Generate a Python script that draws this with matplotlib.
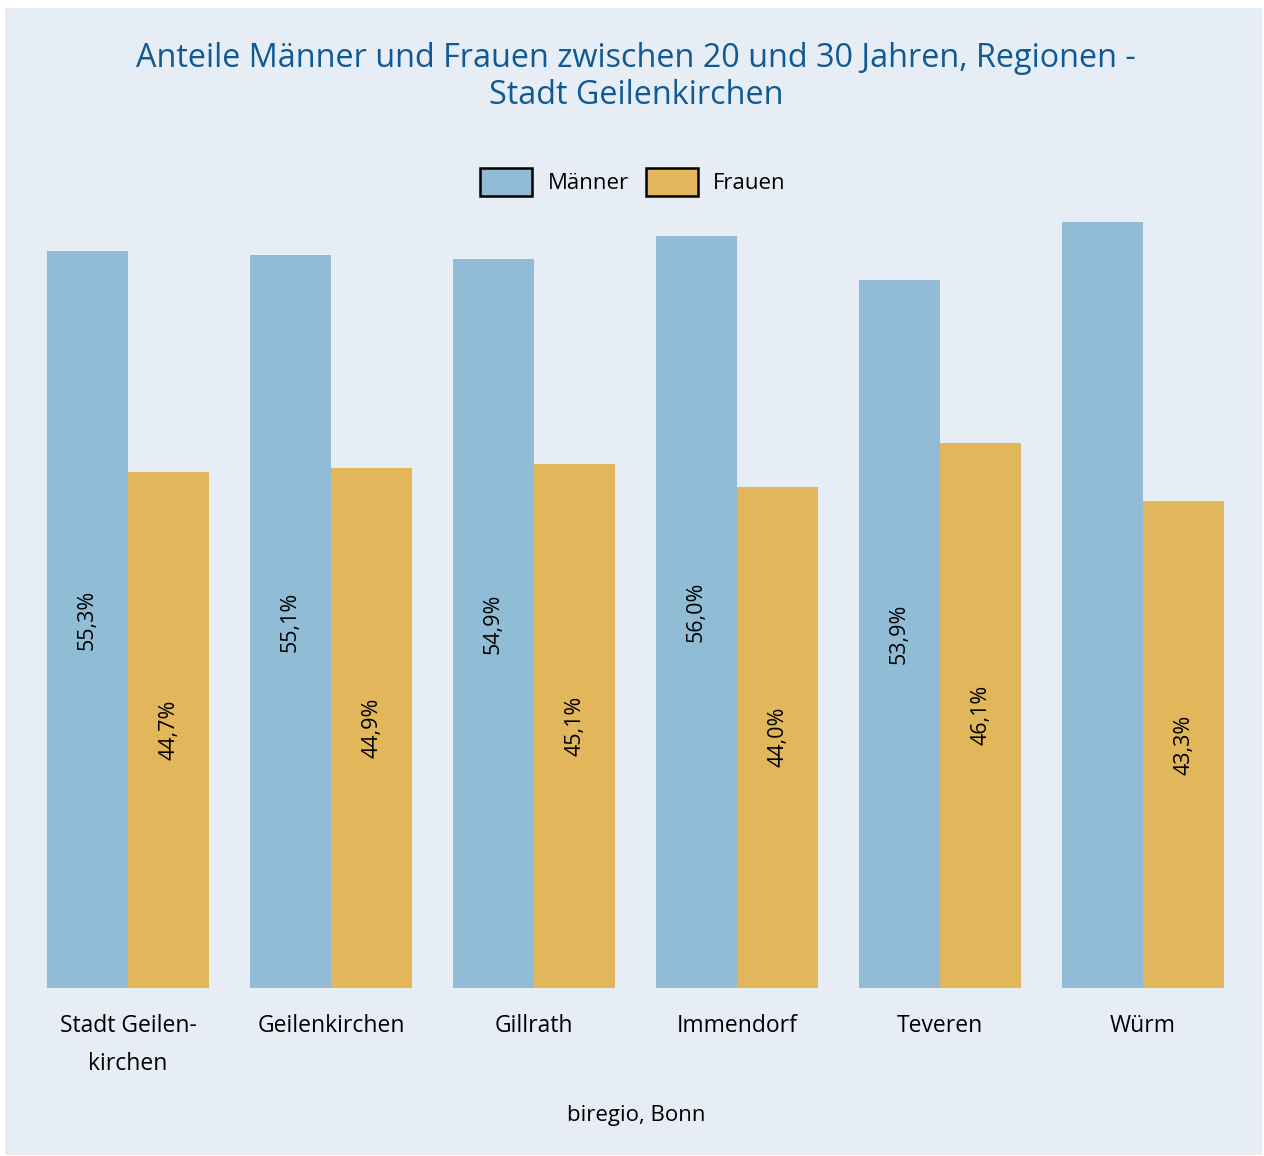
import numpy as np
import matplotlib
matplotlib.use("Agg")
import matplotlib.pyplot as plt
from matplotlib.patches import Patch

# Data
regions = ["Stadt Geilen-\nkirchen", "Geilenkirchen", "Gillrath", "Immendorf", "Teveren", "Würm"]
maenner = [55.3, 55.1, 54.9, 56.0, 53.9, 56.7]
frauen = [44.7, 44.9, 45.1, 44.0, 46.1, 43.3]
show_maenner_label = [True, True, True, True, True, False]

bg = "#E6EDF4"
c_m = "#90BCD6"
c_f = "#E2B65A"
title_col = "#0F5A94"

plt.rcParams['font.family'] = ['Open Sans', 'DejaVu Sans']

fig = plt.figure(figsize=(12.64, 11.56), dpi=100)
fig.patch.set_facecolor("white")
# light panel behind everything
fig.patches.append(plt.Rectangle((5 / 1264, 1 - 1155 / 1156), 1257 / 1264, 1147 / 1156,
                                 transform=fig.transFigure, facecolor=bg, edgecolor="none", zorder=-10))

ax = fig.add_axes([27 / 1264, (1156 - 988) / 1156, (1245 - 27) / 1264, (988 - 210) / 1156])
ax.set_facecolor(bg)

x = np.arange(len(regions))
w = 0.4
bm = ax.bar(x - w / 2, maenner, w, color=c_m)
bf = ax.bar(x + w / 2, frauen, w, color=c_f)

ymin = 19.95
ax.set_ylim(ymin, 57.26)
ax.set_xlim(-0.4975, 5.5025)

for i, r in enumerate(bm):
    if show_maenner_label[i]:
        ax.text(r.get_x() + r.get_width() / 2, (ymin + maenner[i]) / 2,
                f"{maenner[i]:.1f}%".replace(".", ","), rotation=90,
                ha="center", va="center", fontsize=15.5, color="black")
for i, r in enumerate(bf):
    ax.text(r.get_x() + r.get_width() / 2, (ymin + frauen[i]) / 2,
            f"{frauen[i]:.1f}%".replace(".", ","), rotation=90,
            ha="center", va="center", fontsize=15.5, color="black")

ax.set_xticks(x)
ax.set_xticklabels(regions, fontsize=16.5, linespacing=1.75, va="top")
ax.tick_params(axis="x", length=0, pad=19)
ax.set_yticks([])
for s in ax.spines.values():
    s.set_visible(False)

fig.text(636 / 1264, 1 - 77 / 1156, "Anteile Männer und Frauen zwischen 20 und 30 Jahren, Regionen -\nStadt Geilenkirchen",
         ha="center", va="center", fontsize=23.3, color=title_col, linespacing=1.17)

handles = [Patch(facecolor=c_m, edgecolor="black", linewidth=1.8, label="Männer"),
           Patch(facecolor=c_f, edgecolor="black", linewidth=1.8, label="Frauen")]
fig.legend(handles=handles, loc="center", bbox_to_anchor=(633 / 1264, 1 - 182 / 1156), ncol=2,
           frameon=False, fontsize=16, handlelength=2.35, handleheight=1.6, columnspacing=0.75,
           handletextpad=0.7)

fig.text(636 / 1264, 1 - 1116 / 1156, "biregio, Bonn", ha="center", va="center", fontsize=16)

fig.savefig("out.png", dpi=100, facecolor=fig.get_facecolor())
